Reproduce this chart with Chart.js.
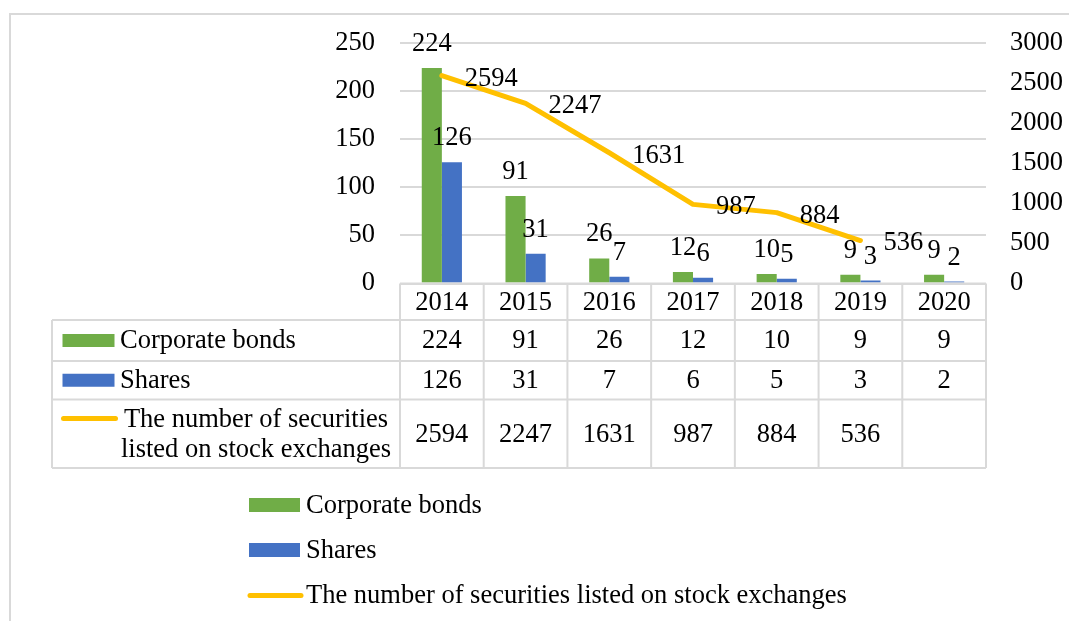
<!DOCTYPE html>
<html>
<head>
<meta charset="utf-8">
<title>Corporate bonds, shares and listed securities</title>
<script src="https://cdn.jsdelivr.net/npm/chart.js@4.4.1/dist/chart.umd.min.js"></script>
<style>
  html, body { margin: 0; padding: 0; background: #fff; }
  #wrap { position: relative; width: 1069px; height: 621px; }
</style>
</head>
<body>
<div id="wrap"><canvas id="myChart"></canvas></div>
<script>
const years = ['2014', '2015', '2016', '2017', '2018', '2019', '2020'];
const corporateBonds = [224, 91, 26, 12, 10, 9, 9];
const shares = [126, 31, 7, 6, 5, 3, 2];
const listedSecurities = [2594, 2247, 1631, 987, 884, 536, null];
const seriesNames = ['Corporate bonds', 'Shares', 'The number of securities listed on stock exchanges'];
const tableRowLabels = [['Corporate bonds'], ['Shares'], ['The number of securities', 'listed on stock exchanges']];
const leftAxisMax = 250, leftAxisStep = 50;
const rightAxisMax = 3000, rightAxisStep = 500;

const FONT = "'Liberation Serif', 'Times New Roman', serif";
const FONT_SIZE = 26.5;
const GRID = '#d9d9d9';

Chart.defaults.font.family = FONT;
Chart.defaults.font.size = FONT_SIZE;
Chart.defaults.color = '#000';

// value labels, data table under the plot and the legend are drawn by hand
const extras = {
    id: 'extras',
    beforeDraw(chart) {
        const c = chart.ctx;
        c.save();
        c.fillStyle = GRID;
        c.fillRect(9, 13, chart.width, 2);
        c.fillRect(9, 13, 2, chart.height);
        c.restore();
    },
    afterDatasetsDraw(chart) {
        const c = chart.ctx;
        c.save();
        c.font = FONT_SIZE + 'px ' + FONT;
        c.fillStyle = '#000';
        c.textBaseline = 'middle';
        chart.data.datasets.forEach((ds, i) => {
            const meta = chart.getDatasetMeta(i);
            meta.data.forEach((el, j) => {
                const v = ds.data[j];
                if (v === null) return;
                if (ds.type === 'line') {
                    c.textAlign = 'left';
                    c.fillText(String(v), el.x + 23, el.y + 3);
                } else {
                    c.textAlign = 'center';
                    c.fillText(String(v), el.x, el.y - 24);
                }
            });
        });
        c.restore();
    },
    afterDraw(chart) {
        const c = chart.ctx;
        const area = chart.chartArea;
        const xs = chart.scales.x;
        const n = years.length;
        const colW = (area.right - area.left) / n;
        const tableLeft = 52;
        const rows = [area.bottom, 320, 361, 399.5, 468];
        c.save();

        // grid of the table
        c.strokeStyle = GRID;
        c.lineWidth = 2;
        c.beginPath();
        c.moveTo(area.left, rows[0]); c.lineTo(area.right, rows[0]);
        for (let r = 1; r < rows.length; r++) {
            c.moveTo(tableLeft, rows[r]); c.lineTo(area.right, rows[r]);
        }
        c.moveTo(tableLeft, rows[1]); c.lineTo(tableLeft, rows[4]);
        for (let i = 0; i <= n; i++) {
            const x = area.left + i * colW;
            c.moveTo(x, rows[0]); c.lineTo(x, rows[4]);
        }
        c.stroke();

        c.font = FONT_SIZE + 'px ' + FONT;
        c.fillStyle = '#000';
        c.textBaseline = 'middle';
        c.textAlign = 'center';
        years.forEach((y, i) => {
            c.fillText(y, xs.getPixelForValue(i), (rows[0] + rows[1]) / 2 + 1);
        });
        chart.data.datasets.forEach((ds, r) => {
            const cy = (rows[r + 1] + rows[r + 2]) / 2 + 1;
            ds.data.forEach((v, i) => {
                if (v === null) return;
                c.textAlign = 'center';
                c.fillText(String(v), xs.getPixelForValue(i), cy);
            });
            drawKey(c, ds, 62.5, r === 2 ? 418.5 : cy - 1, 52, 13);
            const lines = tableRowLabels[r];
            c.fillStyle = '#000';
            if (lines.length === 1) {
                c.textAlign = 'left';
                c.fillText(lines[0], 120, cy);
            } else {
                c.textAlign = 'center';
                c.fillText(lines[0], 256, 420);
                c.fillText(lines[1], 256, 450);
            }
        });

        // legend
        const legendY = [505, 550, 595.5];
        chart.data.datasets.forEach((ds, r) => {
            drawKey(c, ds, 249, legendY[r], 51, 14);
            c.textAlign = 'left';
            c.fillStyle = '#000';
            c.fillText(seriesNames[r], 306, legendY[r] + 1);
        });
        c.restore();
    }
};

function drawKey(c, ds, x, cy, w, h) {
    if (ds.type === 'line') {
        c.save();
        c.strokeStyle = ds.borderColor;
        c.lineWidth = 5;
        c.lineCap = 'round';
        c.beginPath();
        c.moveTo(x + 1, cy);
        c.lineTo(x + w + 1, cy);
        c.stroke();
        c.restore();
    } else {
        c.fillStyle = ds.backgroundColor;
        c.fillRect(x, cy - h / 2, w, h);
    }
}

const data = {
    labels: years,
    datasets: [
        {
            type: 'bar',
            label: seriesNames[0],
            data: corporateBonds,
            backgroundColor: '#70ad47',
            yAxisID: 'y',
            order: 1
        },
        {
            type: 'bar',
            label: seriesNames[1],
            data: shares,
            backgroundColor: '#4472c4',
            yAxisID: 'y',
            order: 1
        },
        {
            type: 'line',
            label: seriesNames[2],
            data: listedSecurities,
            borderColor: '#ffc000',
            backgroundColor: '#ffc000',
            borderWidth: 5,
            borderCapStyle: 'round',
            borderJoinStyle: 'round',
            pointRadius: 0,
            tension: 0,
            yAxisID: 'y1',
            order: 0
        }
    ]
};

const config = {
    type: 'bar',
    data: data,
    options: {
        responsive: true,
        maintainAspectRatio: false,
        animation: false,
        datasets: {
            bar: { barPercentage: 1, categoryPercentage: 0.48 }
        },
        layout: {
            padding: { top: 43, bottom: 337.5, left: 0, right: 0 }
        },
        plugins: {
            legend: { display: false },
            tooltip: { enabled: false }
        },
        scales: {
            x: { display: false, offset: true },
            y: {
                position: 'left',
                min: 0,
                max: leftAxisMax,
                ticks: { stepSize: leftAxisStep, padding: 25, callback: v => String(v) },
                grid: { color: GRID, lineWidth: 2, drawTicks: false },
                border: { display: false },
                afterFit: s => { s.width = 400; }
            },
            y1: {
                position: 'right',
                min: 0,
                max: rightAxisMax,
                ticks: { stepSize: rightAxisStep, padding: 24, callback: v => String(v) },
                grid: { drawOnChartArea: false, drawTicks: false },
                border: { display: false },
                afterFit: s => { s.width = 83; }
            }
        }
    },
    plugins: [extras]
};

const ctx = document.getElementById('myChart').getContext('2d');
const myChart = new Chart(ctx, config);
</script>
</body>
</html>
